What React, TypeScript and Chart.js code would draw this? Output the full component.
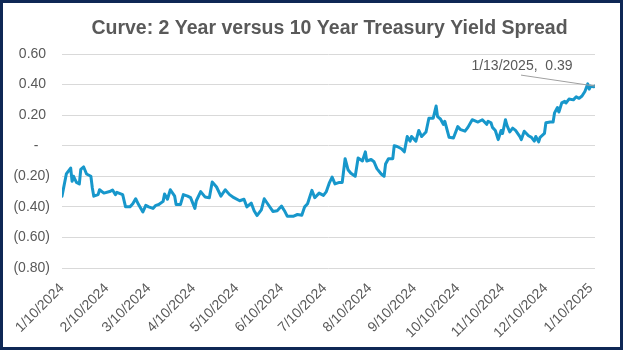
import React, { useEffect, useRef } from "react";
import { Chart, registerables } from "chart.js";

Chart.register(...registerables);

const TITLE = "Curve: 2 Year versus 10 Year Treasury Yield Spread";

const dates = [
  "2024-01-10", "2024-01-13", "2024-01-16", "2024-01-17", "2024-01-18", "2024-01-20", "2024-01-22", "2024-01-23",
  "2024-01-25", "2024-01-27", "2024-01-30", "2024-01-31", "2024-02-01", "2024-02-04", "2024-02-05", "2024-02-08",
  "2024-02-12", "2024-02-14", "2024-02-16", "2024-02-17", "2024-02-21", "2024-02-23", "2024-02-26", "2024-02-28",
  "2024-03-01", "2024-03-03", "2024-03-06", "2024-03-08", "2024-03-10", "2024-03-13", "2024-03-15", "2024-03-17",
  "2024-03-20", "2024-03-21", "2024-03-23", "2024-03-25", "2024-03-28", "2024-03-29", "2024-04-01", "2024-04-03",
  "2024-04-06", "2024-04-08", "2024-04-11", "2024-04-12", "2024-04-15", "2024-04-18", "2024-04-21", "2024-04-23",
  "2024-04-26", "2024-04-29", "2024-05-02", "2024-05-05", "2024-05-08", "2024-05-12", "2024-05-15", "2024-05-17",
  "2024-05-20", "2024-05-22", "2024-05-24", "2024-05-27", "2024-05-29", "2024-05-31", "2024-06-04", "2024-06-07",
  "2024-06-10", "2024-06-12", "2024-06-14", "2024-06-18", "2024-06-21", "2024-06-24", "2024-06-26", "2024-06-28",
  "2024-07-01", "2024-07-03", "2024-07-06", "2024-07-09", "2024-07-11", "2024-07-13", "2024-07-15", "2024-07-17",
  "2024-07-20", "2024-07-22", "2024-07-24", "2024-07-26", "2024-07-28", "2024-07-31", "2024-08-02", "2024-08-05",
  "2024-08-07", "2024-08-08", "2024-08-11", "2024-08-13", "2024-08-15", "2024-08-18", "2024-08-20", "2024-08-21",
  "2024-08-23", "2024-08-26", "2024-08-27", "2024-08-29", "2024-09-01", "2024-09-03", "2024-09-05", "2024-09-07",
  "2024-09-08", "2024-09-11", "2024-09-13", "2024-09-15", "2024-09-18", "2024-09-20", "2024-09-23", "2024-09-25",
  "2024-09-26", "2024-09-28", "2024-09-30", "2024-10-01", "2024-10-04", "2024-10-07", "2024-10-10", "2024-10-12",
  "2024-10-15", "2024-10-17", "2024-10-20", "2024-10-24", "2024-10-27", "2024-10-30", "2024-10-31", "2024-11-02",
  "2024-11-03", "2024-11-05", "2024-11-07", "2024-11-09", "2024-11-10", "2024-11-12", "2024-11-13", "2024-11-15",
  "2024-11-17", "2024-11-19", "2024-11-22", "2024-11-23", "2024-11-25", "2024-11-28", "2024-11-30", "2024-12-02",
  "2024-12-03", "2024-12-05", "2024-12-06", "2024-12-09", "2024-12-10", "2024-12-13", "2024-12-15", "2024-12-16",
  "2024-12-18", "2024-12-19", "2024-12-21", "2024-12-23", "2024-12-24", "2024-12-26", "2024-12-29", "2024-12-31",
  "2025-01-02", "2025-01-04", "2025-01-06", "2025-01-08", "2025-01-09", "2025-01-10", "2025-01-12", "2025-01-13",
];

const spread = [
  -0.33, -0.185, -0.146, -0.233, -0.2, -0.24, -0.25, -0.155,
  -0.139, -0.185, -0.2, -0.277, -0.33, -0.32, -0.288, -0.31,
  -0.3, -0.29, -0.32, -0.305, -0.32, -0.4, -0.4, -0.38,
  -0.347, -0.385, -0.433, -0.39, -0.4, -0.41, -0.39, -0.385,
  -0.364, -0.316, -0.35, -0.288, -0.33, -0.385, -0.385, -0.32,
  -0.33, -0.34, -0.41, -0.36, -0.3, -0.335, -0.34, -0.238,
  -0.27, -0.33, -0.288, -0.32, -0.34, -0.36, -0.35, -0.4,
  -0.375, -0.425, -0.457, -0.42, -0.347, -0.375, -0.43, -0.425,
  -0.395, -0.425, -0.462, -0.462, -0.45, -0.455, -0.4, -0.38,
  -0.292, -0.34, -0.31, -0.325, -0.3, -0.245, -0.205, -0.25,
  -0.24, -0.24, -0.085, -0.157, -0.18, -0.2, -0.08, -0.1,
  -0.04, -0.1, -0.09, -0.105, -0.15, -0.185, -0.2, -0.12,
  -0.085, -0.085, 0.0, -0.005, -0.02, -0.04, 0.06, 0.03,
  0.06, 0.03, 0.1, 0.06, 0.09, 0.18, 0.18, 0.26,
  0.19, 0.175, 0.14, 0.16, 0.055, 0.05, 0.125, 0.105,
  0.095, 0.12, 0.17, 0.155, 0.17, 0.14, 0.16, 0.15,
  0.12, 0.1, 0.04, 0.1, 0.08, 0.17, 0.135, 0.09,
  0.115, 0.1, 0.06, 0.04, 0.095, 0.065, 0.055, 0.03,
  0.06, 0.025, 0.055, 0.08, 0.15, 0.155, 0.155, 0.215,
  0.25, 0.22, 0.28, 0.29, 0.28, 0.305, 0.3, 0.32,
  0.31, 0.325, 0.355, 0.405, 0.37, 0.39, 0.385, 0.39,
];

const tickLabels = [
  "1/10/2024", "2/10/2024", "3/10/2024", "4/10/2024", "5/10/2024", "6/10/2024", "7/10/2024",
  "8/10/2024", "9/10/2024", "10/10/2024", "11/10/2024", "12/10/2024", "1/10/2025",
];

const Y_MIN = -0.8;
const Y_MAX = 0.6;
const Y_STEP = 0.2;

const DAY = 86400000;
const isoToDay = (s: string) => {
  const [y, m, d] = s.split("-").map(Number);
  return Date.UTC(y, m - 1, d) / DAY;
};
const mdyToDay = (s: string) => {
  const [m, d, y] = s.split("/").map(Number);
  return Date.UTC(y, m - 1, d) / DAY;
};
const isoToMdy = (s: string) => {
  const [y, m, d] = s.split("-").map(Number);
  return `${m}/${d}/${y}`;
};
const fmtY = (v: number) => {
  const r = Math.round(v * 100) / 100;
  if (Math.abs(r) < 1e-9) return "-   ";
  if (r < 0) return `(${Math.abs(r).toFixed(2)})`;
  return r.toFixed(2) + " ";
};

const FONT = '"Liberation Sans", Arial, sans-serif';
const TEXT = "#595959";

const titlePlugin = {
  id: "centeredTitle",
  afterDraw(chart: any) {
    const { ctx, chartArea } = chart;
    ctx.save();
    ctx.font = `bold 19.5px ${FONT}`;
    ctx.fillStyle = TEXT;
    ctx.textAlign = "center";
    ctx.textBaseline = "alphabetic";
    ctx.fillText(TITLE, (chartArea.left + chartArea.right) / 2 + 1, 30.5);
    ctx.restore();
  },
};

const lastLabelPlugin = {
  id: "lastLabel",
  afterDatasetsDraw(chart: any) {
    const meta = chart.getDatasetMeta(0);
    const pt = meta.data[meta.data.length - 1];
    if (!pt) return;
    const { ctx } = chart;
    const lastIdx = dates.length - 1;
    const text = `${isoToMdy(dates[lastIdx])},  ${spread[lastIdx].toFixed(2)}`;
    ctx.save();
    ctx.strokeStyle = "#a0a0a0";
    ctx.lineWidth = 1;
    ctx.beginPath();
    ctx.moveTo(pt.x - 74, pt.y - 11);
    ctx.lineTo(pt.x, pt.y);
    ctx.stroke();
    ctx.font = `14px ${FONT}`;
    ctx.fillStyle = TEXT;
    ctx.textAlign = "center";
    ctx.textBaseline = "alphabetic";
    ctx.fillText(text, pt.x - 73, pt.y - 16);
    ctx.restore();
  },
};

export default function App() {
  const canvasRef = useRef<HTMLCanvasElement | null>(null);

  useEffect(() => {
    if (!canvasRef.current) return;
    Chart.defaults.font.family = FONT;
    const points = dates.map((d, i) => ({ x: isoToDay(d), y: spread[i] }));
    const chart = new Chart(canvasRef.current, {
      type: "line",
      data: {
        datasets: [
          {
            data: points,
            borderColor: "#1797cb",
            borderWidth: 3,
            pointRadius: 0,
            tension: 0,
            borderJoinStyle: "round",
            borderCapStyle: "round",
          },
        ],
      },
      options: {
        responsive: false,
        animation: false,
        layout: { padding: { top: 51, right: 25, left: 0, bottom: 0 } },
        plugins: {
          legend: { display: false },
          tooltip: { enabled: false },
          title: { display: false },
        },
        scales: {
          x: {
            type: "linear",
            min: isoToDay(dates[0]),
            max: isoToDay(dates[dates.length - 1]),
            grid: { display: false },
            border: { display: false },
            afterBuildTicks: (s: any) => {
              s.ticks = tickLabels.map((l) => ({ value: mdyToDay(l) }));
            },
            afterFit: (s: any) => {
              s.height = 79;
            },
            ticks: {
              autoSkip: false,
              maxRotation: 45,
              minRotation: 45,
              padding: 4,
              color: TEXT,
              font: { size: 14 },
              callback: (_v: any, i: number) => tickLabels[i],
            },
          },
          y: {
            min: Y_MIN,
            max: Y_MAX,
            afterFit: (s: any) => {
              s.width = 59;
            },
            grid: { color: "#d9d9d9", drawTicks: false, lineWidth: 1 },
            border: { display: false },
            ticks: {
              stepSize: Y_STEP,
              padding: 12,
              color: TEXT,
              font: { size: 14 },
              callback: (v: any) => fmtY(Number(v)),
            },
          },
        },
      },
      plugins: [titlePlugin, lastLabelPlugin],
    } as any);
    return () => chart.destroy();
  }, []);

  return (
    <div
      style={{
        position: "fixed",
        left: 0,
        top: 0,
        width: 623,
        height: 350,
        boxSizing: "border-box",
        border: "3px solid #0e2855",
        background: "#ffffff",
      }}
    >
      <canvas ref={canvasRef} width={617} height={344} style={{ display: "block" }} />
    </div>
  );
}
